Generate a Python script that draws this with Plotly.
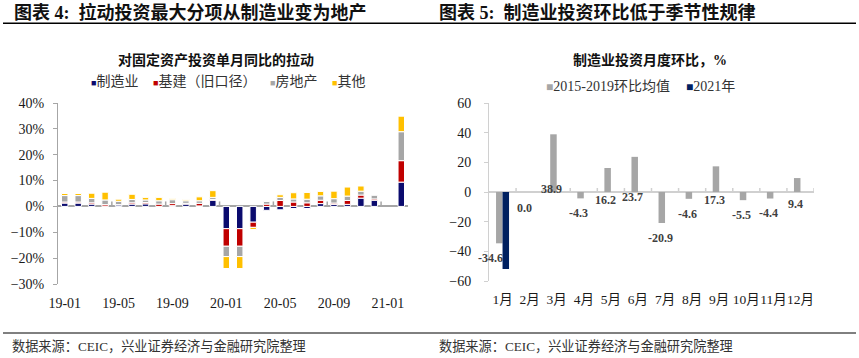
import plotly.graph_objects as go

W, H = 859, 358

# ---------------- Left chart data ----------------
months = ["19-01", "19-02", "19-03", "19-04", "19-05", "19-06", "19-07", "19-08", "19-09", "19-10",
          "19-11", "19-12", "20-01", "20-02", "20-03", "20-04", "20-05", "20-06", "20-07", "20-08",
          "20-09", "20-10", "20-11", "20-12", "21-01", "21-02"]
mfg = [1.3, 1.3, 0.9, 0.1, 0.6, 0.9, 1.0, None, 0.3, 0.9, 0.2, 2.4, -8.6, -8.6, -6.1, -1.5, -1.3, -0.8,
       -0.8, 1.1, 0.8, 0.8, 3.2, 2.4, None, 9.4]
infra = [0.4, 0.4, 0.5, 0.6, 0.1, 0.5, 0.5, 0.9, 0.8, 0.3, 1.0, 0.3, -6.8, -6.8, -2.0, 0.9, 2.3, 1.7,
         1.4, 1.3, 0.5, 1.5, 1.2, 0.5, None, 8.3]
realty = [2.5, 2.5, 1.7, 1.8, 1.3, 1.3, 1.0, 1.3, 1.5, 1.0, 1.0, 0.8, -4.0, -4.0, None, 1.0, 1.2, 1.2,
          1.4, 1.7, 1.7, 1.7, 1.5, 1.4, None, 11.2]
other = [0.8, 0.8, 2.0, 3.0, 0.8, 2.0, 1.0, 1.3, 0.5, 0.5, 1.5, 2.6, -4.6, -4.6, -0.8, None, 1.0, 2.4,
         2.6, 1.7, 2.9, 3.5, 2.0, None, None, 6.0]
left_names = ["制造业", "基建（旧口径）", "房地产", "其他"]
left_tick_labels = ["19-01", "19-05", "19-09", "20-01", "20-05", "20-09", "21-01"]

# ---------------- Right chart data ----------------
month_cn = ["1月", "2月", "3月", "4月", "5月", "6月", "7月", "8月", "9月", "10月", "11月", "12月"]
avg_1519 = [-34.6, 0.0, 38.9, -4.3, 16.2, 23.7, -20.9, -4.6, 17.3, -5.5, -4.4, 9.4]
y2021 = [-51.9, None, None, None, None, None, None, None, None, None, None, None]
right_names = ["2015-2019环比均值", "2021年"]

# ---------------- styles ----------------
SERIF = "Liberation Serif, Noto Sans CJK SC, serif"
C_NAVY, C_RED, C_GRAY, C_YEL = "#0B0B6E", "#C00000", "#A6A6A6", "#FFC000"
C_NAVY2 = "#002060"
TXT = "#1a1a1a"


def px(x):
    return x / W


def py(y):
    return 1 - y / H


fig = go.Figure()

xi = list(range(len(months)))
for vals, name, col in zip([mfg, infra, realty, other], left_names, [C_NAVY, C_RED, C_GRAY, C_YEL]):
    fig.add_trace(go.Bar(x=xi, y=vals, name=name, marker=dict(color=col, line=dict(color="white", width=1)),
                         offsetgroup="L", xaxis="x", yaxis="y", showlegend=False))

xr = list(range(len(month_cn)))
fig.add_trace(go.Bar(x=xr, y=avg_1519, name=right_names[0], marker=dict(color=C_GRAY, line=dict(width=0)),
                     offsetgroup="G", xaxis="x2", yaxis="y2", showlegend=False))
fig.add_trace(go.Bar(x=xr, y=y2021, name=right_names[1], marker=dict(color=C_NAVY2, line=dict(width=0)),
                     offsetgroup="N", xaxis="x2", yaxis="y2", showlegend=False))

tick_idx = [months.index(t) for t in left_tick_labels]

fig.update_layout(
    width=W, height=H, margin=dict(l=0, r=0, t=0, b=0, autoexpand=False),
    paper_bgcolor="white", plot_bgcolor="white", showlegend=False,
    barmode="relative", bargap=0.52,
    font=dict(family=SERIF, color=TXT, size=14),
    xaxis=dict(domain=[px(58), px(408)], range=[-0.5, len(months) - 0.5], tickvals=tick_idx,
               ticktext=left_tick_labels, showgrid=False, zeroline=False, showline=False, ticks="",
               tickangle=0, tickfont=dict(size=14, family=SERIF, color=TXT), ticklabelstandoff=9,
               anchor="y", automargin=False),
    yaxis=dict(domain=[py(284), py(103)], range=[-30, 40], dtick=10, ticksuffix="%", showgrid=False,
               zeroline=True, zerolinecolor="#A6A6A6", zerolinewidth=1.5, showline=True,
               linecolor="#A6A6A6", linewidth=1, ticks="outside", ticklen=4, tickcolor="#A6A6A6",
               tickfont=dict(size=14, family=SERIF, color=TXT), ticklabelstandoff=6, anchor="x",
               automargin=False),
    xaxis2=dict(domain=[px(489), px(814)], range=[-0.5, len(month_cn) - 0.5], tickvals=xr,
                ticktext=month_cn, showgrid=False, zeroline=False, showline=False, ticks="",
                tickangle=0, tickfont=dict(size=13.5, family=SERIF, color=TXT), ticklabelstandoff=8,
                anchor="y2", automargin=False),
    yaxis2=dict(domain=[py(281), py(103)], range=[-60, 60], dtick=20, showgrid=False,
                zeroline=True, zerolinecolor="#D0D0D0", zerolinewidth=1.5, showline=True,
                linecolor="#D0D0D0", linewidth=1, ticks="outside", ticklen=4, tickcolor="#D0D0D0",
                tickfont=dict(size=14, family=SERIF, color=TXT), ticklabelstandoff=10, anchor="x2",
                automargin=False),
)

shapes = []
# header and footer rules
shapes.append(dict(type="line", xref="paper", yref="paper", x0=px(3), x1=px(856), y0=py(23.3), y1=py(23.3),
                   line=dict(color="black", width=1.5)))
shapes.append(dict(type="line", xref="paper", yref="paper", x0=px(3), x1=px(856), y0=py(333), y1=py(333),
                   line=dict(color="black", width=1)))
# category-boundary ticks on the zero lines
for k in range(4, len(months), 4):
    shapes.append(dict(type="line", xref="x", yref="y", x0=k - 0.5, x1=k - 0.5, ysizemode="pixel",
                       yanchor=0, y0=0, y1=5, line=dict(color="#A6A6A6", width=1.5)))
for k in range(1, len(month_cn) + 1):
    shapes.append(dict(type="line", xref="x2", yref="y2", x0=k - 0.5, x1=k - 0.5, ysizemode="pixel",
                       yanchor=0, y0=0, y1=4, line=dict(color="#D0D0D0", width=1.5)))
fig.update_layout(shapes=shapes)

ann = []
# headers
ann.append(dict(xref="paper", yref="paper", x=px(12), y=py(13), xanchor="left", yanchor="middle",
                text="<b>图表 4:  拉动投资最大分项从制造业变为地产</b>", showarrow=False,
                font=dict(size=18, family=SERIF, color="#111")))
ann.append(dict(xref="paper", yref="paper", x=px(437), y=py(13), xanchor="left", yanchor="middle",
                text="<b>图表 5:  制造业投资环比低于季节性规律</b>", showarrow=False,
                font=dict(size=18, family=SERIF, color="#111")))
# chart titles
ann.append(dict(xref="paper", yref="paper", x=px(216), y=py(60), xanchor="center", yanchor="middle",
                text="<b>对固定资产投资单月同比的拉动</b>", showarrow=False,
                font=dict(size=14, family=SERIF, color="#111")))
ann.append(dict(xref="paper", yref="paper", x=px(650), y=py(60), xanchor="center", yanchor="middle",
                text="<b>制造业投资月度环比，%</b>", showarrow=False,
                font=dict(size=14, family=SERIF, color="#111")))
# legends
for name, col, x0 in zip(left_names, [C_NAVY, C_RED, C_GRAY, C_YEL], [89, 151, 268, 330]):
    ann.append(dict(xref="paper", yref="paper", x=px(x0), y=py(81), xanchor="left", yanchor="middle",
                    text=f"<span style='color:{col};font-size:9px'>■</span>{name}", showarrow=False,
                    font=dict(size=14, family=SERIF, color="#333")))
for name, col, x0 in zip(right_names, [C_GRAY, C_NAVY2], [544, 684]):
    ann.append(dict(xref="paper", yref="paper", x=px(x0), y=py(87), xanchor="left", yanchor="middle",
                    text=f"<span style='color:{col};font-size:12px'>■</span>{name}", showarrow=False,
                    font=dict(size=14, family=SERIF, color="#333")))
# data labels (right chart)
for i, v in enumerate(avg_1519):
    ly = 0.33 * v - 11 if v >= 0 else v - 10
    ann.append(dict(xref="x2", yref="y2", x=i, y=ly, xshift=-12 if i == 0 else -5, text=f"<b>{v:.1f}</b>",
                    showarrow=False, font=dict(size=12, family=SERIF, color="#404040")))
for i, v in enumerate(y2021):
    if v is not None:
        ann.append(dict(xref="x2", yref="y2", x=i, y=v - 8.5, xshift=29, text=f"<b>{v:.1f}</b>",
                        showarrow=False, font=dict(size=15, family=SERIF, color=C_NAVY2)))
# footers
for x0 in [10, 437]:
    ann.append(dict(xref="paper", yref="paper", x=px(x0), y=py(346), xanchor="left", yanchor="middle",
                    text="数据来源：CEIC，兴业证券经济与金融研究院整理", showarrow=False,
                    font=dict(size=13.2, family=SERIF, color="#333")))
fig.update_layout(annotations=ann)

fig.write_html("out.html", config={"displayModeBar": False},
               post_script="document.body.style.margin='0';document.body.style.overflow='hidden';")
